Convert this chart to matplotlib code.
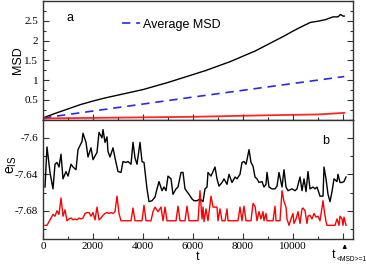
import matplotlib
matplotlib.use("Agg")
import matplotlib.pyplot as plt
from matplotlib.ticker import MultipleLocator, FixedLocator
import matplotlib.transforms as mtransforms

# panel a: MSD curves
msd_t = [0, 200, 500, 1000, 1500, 2000, 2500, 3000, 4000, 5000, 5600, 6500, 7500,
         8500, 9200, 9600, 10000, 10400, 10700, 11000, 11300, 11600, 11800, 11900, 12000, 12050]
msd_black = [0.04, 0.09, 0.16, 0.27, 0.38, 0.47, 0.55, 0.62, 0.76, 0.94, 1.06, 1.24, 1.47,
             1.74, 1.97, 2.10, 2.24, 2.37, 2.46, 2.49, 2.53, 2.60, 2.60, 2.66, 2.62, 2.62]
avg_t = [0, 6000, 12050]
avg_msd = [0.04, 0.57, 1.09]
red_msd_t = [0, 3000, 6000, 9000, 11000, 12050]
red_msd = [0.03, 0.05, 0.07, 0.11, 0.13, 0.17]

# panel b: e_IS
eis_t = [80, 160, 280, 400, 480, 560, 640, 720, 800, 920, 1000, 1120, 1200, 1320, 1400, 1560,
         1600, 1720, 1800, 1920, 2000, 2160, 2240, 2360, 2400, 2480, 2560, 2600, 2680, 2800,
         2880, 3000, 3120, 3200, 3320, 3400, 3520, 3600, 3680, 3760, 3880, 3960, 4040, 4160,
         4240, 4360, 4480, 4560, 4640, 4760, 4840, 4920, 5000, 5120, 5200, 5320, 5400, 5520,
         5600, 5680, 5760, 5840, 5960, 6040, 6160, 6280, 6400, 6480, 6560, 6600, 6720, 6800,
         6880, 6960, 7040, 7160, 7240, 7360, 7440, 7560, 7680, 7760, 7880, 7960, 8040, 8120,
         8160, 8240, 8320, 8400, 8480, 8560, 8640, 8760, 8840, 8920, 8960, 9040, 9160, 9280,
         9360, 9440, 9560, 9640, 9720, 9800, 9960, 10080, 10160, 10280, 10360, 10440, 10520,
         10600, 10680, 10800, 10880, 10960, 11080, 11200, 11240, 11320, 11400, 11480, 11560,
         11640, 11760, 11800, 11880, 11960, 12040, 12120]
eis_black = [-7.654, -7.610, -7.638, -7.656, -7.629, -7.627, -7.632, -7.618, -7.645, -7.637,
             -7.642, -7.629, -7.632, -7.635, -7.613, -7.604, -7.595, -7.605, -7.621, -7.611,
             -7.624, -7.616, -7.594, -7.600, -7.591, -7.605, -7.599, -7.615, -7.621, -7.611,
             -7.622, -7.637, -7.638, -7.626, -7.627, -7.626, -7.629, -7.605, -7.622, -7.629,
             -7.605, -7.626, -7.627, -7.656, -7.670, -7.669, -7.665, -7.656, -7.648, -7.658,
             -7.654, -7.658, -7.642, -7.645, -7.662, -7.656, -7.654, -7.638, -7.638, -7.656,
             -7.659, -7.662, -7.667, -7.669, -7.669, -7.667, -7.670, -7.656, -7.654, -7.638,
             -7.642, -7.637, -7.632, -7.645, -7.653, -7.649, -7.645, -7.651, -7.640, -7.649,
             -7.643, -7.645, -7.640, -7.627, -7.626, -7.629, -7.624, -7.613, -7.627, -7.631,
             -7.643, -7.645, -7.649, -7.648, -7.654, -7.651, -7.638, -7.654, -7.656, -7.656,
             -7.653, -7.638, -7.654, -7.635, -7.654, -7.658, -7.656, -7.658, -7.656, -7.643,
             -7.658, -7.645, -7.659, -7.637, -7.656, -7.654, -7.656, -7.654, -7.664, -7.664,
             -7.632, -7.645, -7.662, -7.670, -7.659, -7.645, -7.648, -7.640, -7.649, -7.649,
             -7.648, -7.643]
red_t = [80, 160, 280, 400, 480, 560, 640, 720, 800, 880, 960, 1040, 1120, 1200, 1280, 1360,
         1440, 1520, 1600, 1680, 1760, 1840, 1920, 2000, 2080, 2160, 2240, 2320, 2400, 2480,
         2560, 2640, 2720, 2800, 2880, 2960, 3040, 3120, 3520, 3600, 3680, 3960, 4040, 4120,
         4320, 4400, 4480, 4600, 4720, 4800, 4880, 4960, 5320, 5400, 5480, 5680, 5760, 5840,
         6200, 6280, 6360, 6400, 6440, 6520, 6600, 6720, 6800, 6880, 6960, 7000, 7080, 7160,
         7280, 7360, 7400, 7800, 7880, 7960, 8040, 8120, 8320, 8400, 8480, 8560, 8640, 8720,
         8800, 8840, 8920, 8960, 9200, 9280, 9320, 9480, 9560, 9640, 9720, 9760, 9840, 9920,
         10000, 10040, 10120, 10200, 10280, 10360, 10400, 10480, 10560, 10600, 10680, 10760,
         10840, 10920, 11000, 11080, 11200, 11240, 11320, 11360, 11480, 11680, 11760, 11840,
         11880, 11960, 12000, 12040, 12120]
eis_red = [-7.696, -7.696, -7.690, -7.684, -7.686, -7.680, -7.684, -7.666, -7.686, -7.679,
           -7.691, -7.689, -7.688, -7.690, -7.689, -7.690, -7.688, -7.689, -7.688, -7.683,
           -7.682, -7.682, -7.686, -7.682, -7.690, -7.676, -7.690, -7.688, -7.685, -7.683,
           -7.682, -7.683, -7.682, -7.683, -7.681, -7.664, -7.683, -7.691, -7.691, -7.677,
           -7.691, -7.691, -7.674, -7.691, -7.691, -7.681, -7.676, -7.681, -7.676, -7.691,
           -7.676, -7.691, -7.691, -7.675, -7.691, -7.691, -7.675, -7.691, -7.691, -7.658,
           -7.689, -7.676, -7.692, -7.678, -7.691, -7.664, -7.676, -7.676, -7.676, -7.691,
           -7.678, -7.691, -7.691, -7.678, -7.691, -7.691, -7.676, -7.691, -7.675, -7.691,
           -7.691, -7.672, -7.675, -7.691, -7.681, -7.689, -7.681, -7.691, -7.683, -7.691,
           -7.691, -7.675, -7.691, -7.691, -7.658, -7.670, -7.676, -7.689, -7.696, -7.689,
           -7.683, -7.694, -7.689, -7.681, -7.694, -7.678, -7.677, -7.680, -7.694, -7.686,
           -7.685, -7.689, -7.683, -7.687, -7.686, -7.691, -7.669, -7.678, -7.692, -7.696,
           -7.696, -7.696, -7.689, -7.696, -7.686, -7.689, -7.696, -7.687, -7.696]

msd_ticks = [0.5, 1, 1.5, 2, 2.5]
msd_ticklabels = ['0.5', '1', '1.5', '2', '2.5']
eis_ticks = [-7.68, -7.64, -7.60]
eis_ticklabels = ['-7.68', '-7.64', '-7.6']
t_ticks = [0, 2000, 4000, 6000, 8000, 10000]
t_ticklabels = ['0', '2000', '4000', '6000', '8000', '10000']

serif = 'Liberation Serif'
sans = 'Liberation Sans'

fig = plt.figure(figsize=(3.66, 2.64), dpi=100)
ax1 = fig.add_axes([0.1175, 0.547, 0.847, 0.449])
ax2 = fig.add_axes([0.1175, 0.0947, 0.847, 0.4523])

for ax in (ax1, ax2):
    ax.set_xlim(0, 12400)
    ax.xaxis.set_major_locator(FixedLocator([0, 2000, 4000, 6000, 8000, 10000, 12000]))
    ax.xaxis.set_minor_locator(MultipleLocator(1000))
    ax.tick_params(which='both', direction='in', left=True, right=True, top=False, bottom=True,
                   labelsize=8, width=0.8, colors='#333333', labelcolor='black')
    ax.tick_params(which='major', length=4)
    ax.tick_params(which='minor', length=2)
    for s in ax.spines.values():
        s.set_linewidth(1.0)
        s.set_color('#333333')

# top panel
ax1.plot(msd_t, msd_black, color='black', lw=1.0)
ax1.plot(avg_t, avg_msd, color='#2a2ae6', lw=1.2, dashes=(5, 3.5), label='Average MSD')
ax1.plot(red_msd_t, red_msd, color='red', lw=1.3, alpha=0.85)
ax1.set_ylim(0, 3)
ax1.set_yticks(msd_ticks)
ax1.set_yticklabels(msd_ticklabels, fontfamily=serif)
ax1.yaxis.set_minor_locator(MultipleLocator(0.25))
ax1.set_xticklabels([])
ax1.set_ylabel('MSD', fontfamily=sans, fontsize=9)
ax1.yaxis.set_label_coords(-0.062, 0.5)
ax1.text(0.077, 0.83, 'a', transform=ax1.transAxes, fontfamily=sans, fontsize=9)
leg = ax1.legend(loc='upper left', bbox_to_anchor=(0.255, 0.85), frameon=False,
                 prop={'family': sans, 'size': 9}, handlelength=1.4, handletextpad=0.3,
                 borderpad=0, borderaxespad=0)

# bottom panel
ax2.plot(eis_t, eis_black, color='black', lw=1.0)
ax2.plot(red_t, eis_red, color='red', lw=1.0)
ax2.set_ylim(-7.711, -7.58)
ax2.set_yticks(eis_ticks)
ax2.set_yticklabels(eis_ticklabels, fontfamily=serif)
ax2.yaxis.set_minor_locator(MultipleLocator(0.02))
ax2.set_xticklabels(t_ticklabels + [''], fontfamily=serif)
ax2.tick_params(axis='x', pad=2)
ax2.set_xlabel('t', fontfamily=sans, fontsize=9)
ax2.xaxis.set_label_coords(0.5, -0.1)
ax2.set_ylabel(r'$\mathregular{e_{IS}}$', fontfamily=sans, fontsize=10)
ax2.yaxis.set_label_coords(-0.077, 0.62)
ax2.text(0.9, 0.795, 'b', transform=ax2.transAxes, fontfamily=sans, fontsize=9)

trans = mtransforms.blended_transform_factory(ax2.transData, ax2.transAxes)
ax2.annotate('', xy=(12070, -0.02), xytext=(12070, -0.1), xycoords=trans, textcoords=trans,
             arrowprops=dict(arrowstyle='-|>', color='black', lw=0.9, mutation_scale=5))
ax2.text(11550, -0.135, 't', transform=trans, fontfamily=sans, fontsize=9, ha='left', va='center',
         clip_on=False)
ax2.text(11760, -0.17, '<MSD>=1', transform=trans, fontfamily=sans, fontsize=4.8, ha='left',
         va='center', clip_on=False)

fig.savefig('out.png', dpi=100)
